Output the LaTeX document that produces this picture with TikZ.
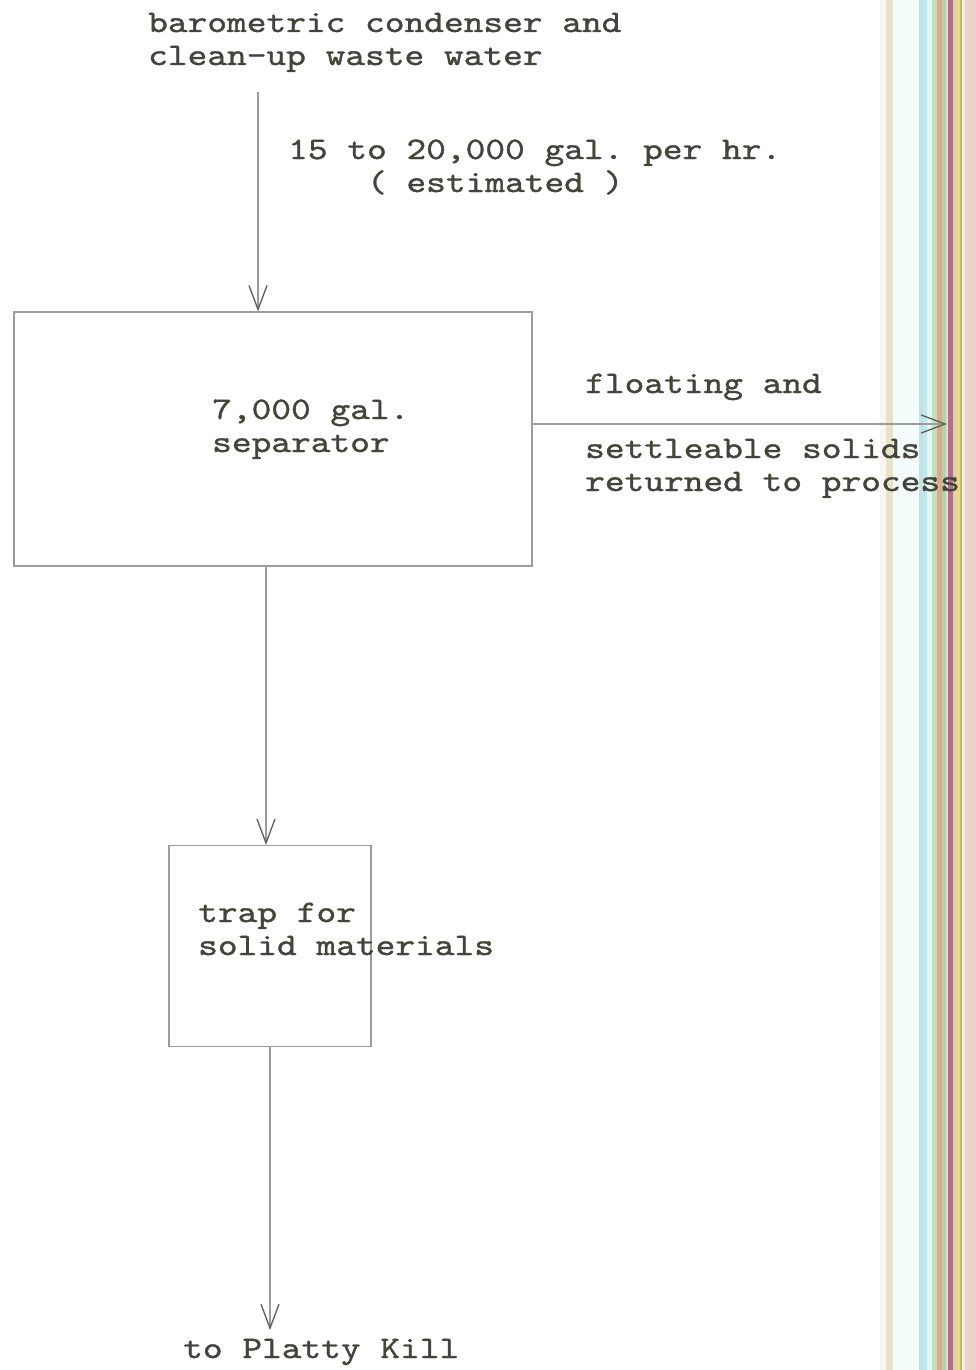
\documentclass[tikz,border=0pt]{standalone}
\usepackage{fontspec}
\newfontfamily\typewr{lmmono10-regular.otf}[FakeStretch=1.2, FakeBold=1.1]
\usetikzlibrary{arrows.meta, positioning}

\definecolor{ink}{HTML}{44443C}
\definecolor{lineGrey}{HTML}{9C9C98}
\definecolor{tipGrey}{HTML}{5E5E56}
% paper edge stripes
\definecolor{edgeA}{HTML}{FBF5F2}
\definecolor{edgeB}{HTML}{E8E3C6}
\definecolor{edgeC}{HTML}{F4FBFB}
\definecolor{edgeD}{HTML}{C4E2E6}
\definecolor{edgeE}{HTML}{BDEAEA}
\definecolor{edgeF}{HTML}{E2F7F5}
\definecolor{edgeG}{HTML}{BFE0C0}
\definecolor{edgeH}{HTML}{E3A88C}
\definecolor{edgeI}{HTML}{A9D6B0}
\definecolor{edgeJ}{HTML}{F2D6D6}
\definecolor{edgeK}{HTML}{A8767E}
\definecolor{edgeL}{HTML}{E8C4C8}
\definecolor{edgeM}{HTML}{E6DA8A}
\definecolor{edgeN}{HTML}{C8B860}
\definecolor{edgeO}{HTML}{F4EEDC}
\definecolor{edgeP}{HTML}{EBD3CC}

\frenchspacing

\begin{document}
\begin{tikzpicture}[x=1pt, y=-1pt,
    typed/.style={font=\typewr\fontsize{31.3}{33}\selectfont, text=ink, inner sep=0pt, align=left, anchor=base west},
    tank/.style={draw=lineGrey, line width=1.3pt, inner sep=0pt},
    flow/.style={draw=lineGrey, line width=1.2pt, -{Straight Barb[length=24pt,width=18pt,line width=1.3pt,color=tipGrey]}}]

    % page
    \useasboundingbox (0,0) rectangle (976,1370);
    \fill[white] (0,0) rectangle (976,1370);
    \foreach \xa/\w/\c in {880/6/edgeA, 886/7/edgeB, 893/26/edgeC, 919/4/edgeD, 923/4/edgeE, 927/5/edgeF,
        932/5/edgeG, 937/5/edgeH, 942/4/edgeI, 946/2/edgeJ, 948/5/edgeK, 953/3/edgeL, 956/4/edgeM,
        960/2/edgeN, 962/3/edgeO, 965/11/edgeP}
        \fill[\c] (\xa,0) rectangle ++(\w,1370);

    % inflow (base = last line)
    \node[typed] (source) at (148,65) {barometric condenser and\\clean-up waste water};
    \coordinate (inTop) at (258,92);
    \node[typed] (rate) at (288,192) {15 to 20,000 gal. per hr.\\\phantom{0000}( estimated )};

    % separator
    \node[tank, minimum width=518pt, minimum height=254pt] (sep) at (273,439) {};
    \node[typed] (sepText) at (212,452) {7,000 gal.\\separator};
    \draw[flow] (inTop) -- (inTop |- sep.north);

    % solids back to process
    \coordinate (solidsOut) at (947,424);
    \draw[flow] (sep.east |- solidsOut) -- (solidsOut);
    \node[typed] (solidsTop) at (585,393) {floating and};
    \node[typed] (solidsText) at (585,491) {settleable solids\\returned to process};

    % trap
    \node[tank, minimum width=202pt, minimum height=201pt] (trap) at (270,946) {};
    \node[typed] (trapText) at (198,955) {trap for\\solid materials};
    \draw[flow] ([xshift=-7pt]sep.south) -- ([xshift=-4pt]trap.north);

    % outfall
    \coordinate (outlet) at (274,1330);
    \draw[flow] (trap.south) -- (trap.south |- outlet);
    \node[typed] (outText) at (183,1358) {to Platty Kill};
\end{tikzpicture}
\end{document}
